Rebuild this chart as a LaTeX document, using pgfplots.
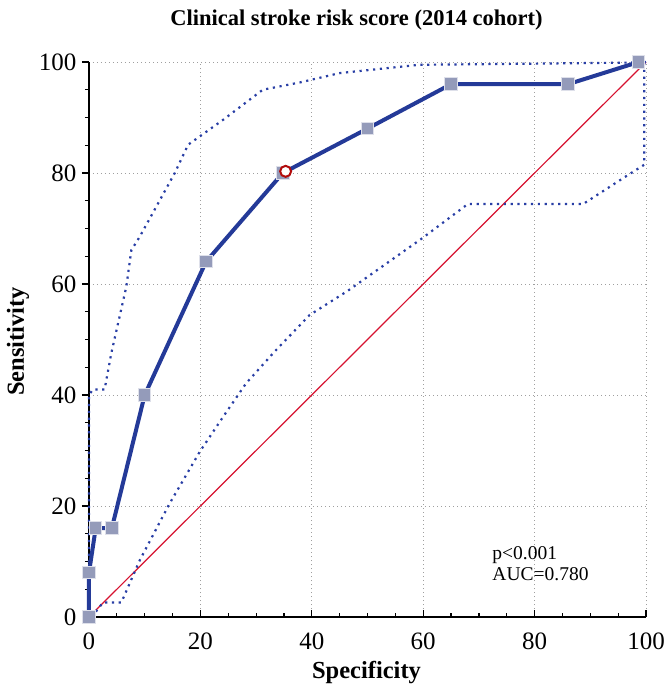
\documentclass[border=0pt]{standalone}
\usepackage{fontspec}
\setmainfont{Liberation Serif}
\usepackage{pgfplots}
\pgfplotsset{compat=1.18}
\definecolor{mainblue}{RGB}{36,58,152}
\definecolor{dotblue}{RGB}{40,62,165}
\definecolor{mkfill}{RGB}{148,155,186}
\definecolor{mkedge}{RGB}{222,224,234}
\definecolor{diagred}{RGB}{214,18,48}
\definecolor{optred}{RGB}{178,12,12}
\begin{document}
\begin{tikzpicture}
\begin{axis}[
  at={(0,0)}, anchor=south west,
  scale only axis, width=557pt, height=555pt,
  xmin=0, xmax=100, ymin=0, ymax=100,
  xtick={0,20,40,60,80,100}, ytick={0,20,40,60,80,100},
  minor tick num=3,
  axis x line*=bottom, axis y line*=left,
  axis line style={line width=1.3pt, -},
  tick align=inside,
  major tick length=7pt, minor tick length=4pt,
  every tick/.style={black, line width=1.2pt},
  major y tick style={xshift=-7pt},
  minor y tick style={xshift=-4pt},
  grid=major,
  major grid style={gray!75, line width=0.8pt, dash pattern=on 1pt off 3pt},
  ticklabel style={font=\fontsize{25}{28}\selectfont},
  /pgf/number format/assume math mode=true,
  yticklabel style={xshift=-9pt},
  xticklabel style={yshift=-12pt},
  title={\textbf{Clinical stroke risk score (2014 cohort)}},
  title style={font=\fontsize{22.5}{25}\selectfont, at={(rel axis cs:0.5,1)}, anchor=center, yshift=36pt, xshift=-11pt},
  xlabel={\textbf{Specificity}},
  ylabel={\textbf{Sensitivity}},
  label style={font=\fontsize{24.5}{28}\selectfont},
  xlabel style={at={(rel axis cs:0.5,0)}, anchor=center, yshift=-56pt, xshift=-1pt},
  ylabel style={at={(rel axis cs:0,0.5)}, anchor=center, yshift=71pt, xshift=-2pt},
  clip=false,
]
% diagonal reference line
\addplot[diagred, line width=1.2pt] coordinates {(0,0) (100,100)};
% upper confidence bound
\addplot[dotblue, line width=2.2pt, dash pattern=on 2.2pt off 4.6pt] coordinates {
(0,0) (0,20) (0,40) (0.7,41) (2.8,41) (4.0,47.5) (6.7,59.5) (7.6,66.1) (9.1,68.5)
(15.4,80) (17.8,85.1) (19.9,86.6) (24.1,89.6) (31.2,95) (37.8,96.3) (45,98)
(59.3,99.5) (80,99.7) (97.6,99.9) (100,100)};
% lower confidence bound
\addplot[dotblue, line width=2.2pt, dash pattern=on 2.2pt off 4.6pt] coordinates {
(0.5,0) (2.5,2.6) (5.8,2.6) (9.1,10.2) (14.5,20.5) (19.9,29.8) (24.1,36.1)
(28.2,42.1) (33.3,47.8) (39.6,54.4) (46.5,58.8) (59.9,68.3) (68,74.4) (88.7,74.4)
(96.4,79.4) (99.7,81.5) (99.7,100)};
% ROC curve
\addplot[mainblue, line width=4pt, mark=square*, mark size=6.2pt,
  mark options={fill=mkfill, draw=mkedge, line width=1pt}] coordinates {
(0,0) (0,8) (1.2,16) (4.1,16) (10,40) (21,64) (34.8,80) (50,88) (65,96) (86,96) (98.7,100)};
% optimal criterion
\addplot[only marks, mark=*, mark size=5.5pt, mark options={fill=white, draw=optred, line width=2pt}]
  coordinates {(35.3,80.3)};
\node[anchor=west, align=left, font=\fontsize{19.5}{23}\selectfont, inner sep=0pt]
  at (axis cs:72.4,9.6) {p<0.001\\[-2pt]AUC=0.780};
\end{axis}
\pgfresetboundingbox
\useasboundingbox (-89pt,-71pt) rectangle (575pt,617pt);
\end{tikzpicture}
\end{document}
